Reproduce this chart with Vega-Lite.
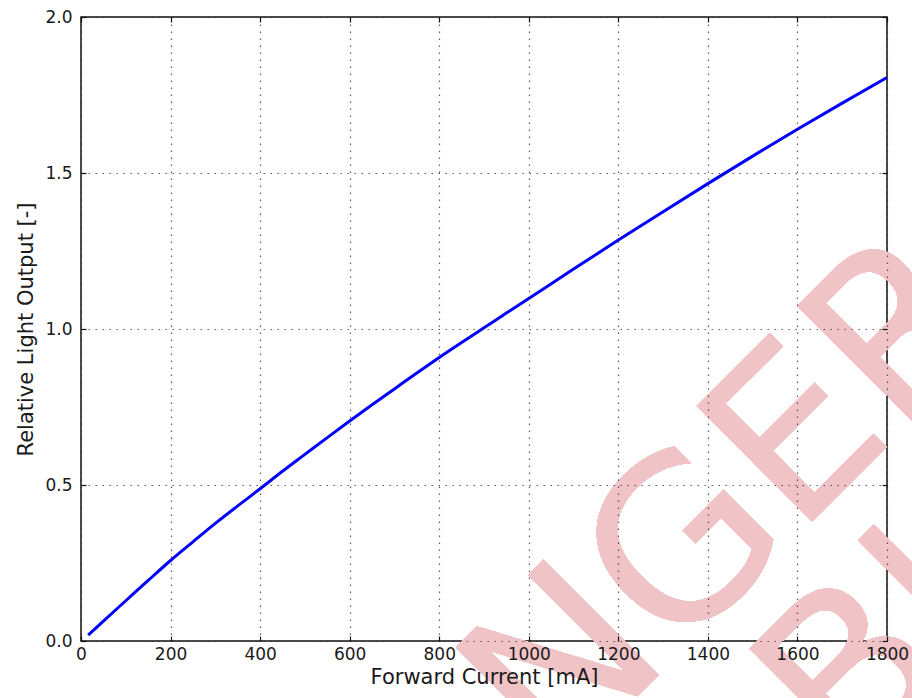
{
  "$schema": "https://vega.github.io/schema/vega-lite/v6.json",
  "autosize": {"type": "none"},
  "width": 806,
  "height": 624,
  "padding": {"left": 81, "top": 17, "right": 25, "bottom": 57},
  "background": "white",
  "config": {
    "view": {"stroke": "#111", "strokeWidth": 1.5},
    "font": "DejaVu Sans",
    "axis": {
      "labelFont": "DejaVu Sans",
      "titleFont": "DejaVu Sans",
      "labelFontSize": 17,
      "titleFontSize": 21,
      "titleFontWeight": "normal",
      "labelColor": "#1a1a1a",
      "titleColor": "#1a1a1a",
      "domain": false
    }
  },
  "data": {
    "values": [
      {"current": 16, "output": 0.019},
      {"current": 50, "output": 0.064},
      {"current": 100, "output": 0.129},
      {"current": 150, "output": 0.194},
      {"current": 200, "output": 0.258},
      {"current": 250, "output": 0.318},
      {"current": 300, "output": 0.377},
      {"current": 350, "output": 0.433},
      {"current": 400, "output": 0.488},
      {"current": 450, "output": 0.544},
      {"current": 500, "output": 0.598},
      {"current": 550, "output": 0.652},
      {"current": 600, "output": 0.705},
      {"current": 650, "output": 0.757},
      {"current": 700, "output": 0.808},
      {"current": 750, "output": 0.859},
      {"current": 800, "output": 0.909},
      {"current": 850, "output": 0.957},
      {"current": 900, "output": 1.004},
      {"current": 950, "output": 1.051},
      {"current": 1000, "output": 1.098},
      {"current": 1100, "output": 1.192},
      {"current": 1200, "output": 1.285},
      {"current": 1300, "output": 1.376},
      {"current": 1400, "output": 1.466},
      {"current": 1500, "output": 1.554},
      {"current": 1600, "output": 1.64},
      {"current": 1700, "output": 1.724},
      {"current": 1800, "output": 1.806}
    ]
  },
  "resolve": {"axis": {"x": "independent", "y": "independent"}},
  "layer": [
    {
      "mark": {"type": "text", "text": "NGER", "font": "DejaVu Sans", "fontSize": 224, "angle": -45, "align": "left", "baseline": "alphabetic", "fill": "#f0c3c7", "clip": false},
      "encoding": {
        "x": {"datum": 1060, "type": "quantitative", "scale": {"domain": [0, 1800], "nice": false, "zero": false}, "axis": null},
        "y": {"datum": -0.44, "type": "quantitative", "scale": {"domain": [0, 2], "nice": false, "zero": false}, "axis": null}
      }
    },
    {
      "mark": {"type": "text", "text": "BI", "font": "DejaVu Sans", "fontSize": 224, "angle": -45, "align": "left", "baseline": "alphabetic", "fill": "#f0c3c7", "clip": false},
      "encoding": {
        "x": {"datum": 1716, "type": "quantitative", "scale": {"domain": [0, 1800], "nice": false, "zero": false}, "axis": null},
        "y": {"datum": -0.445, "type": "quantitative", "scale": {"domain": [0, 2], "nice": false, "zero": false}, "axis": null}
      }
    },
    {
      "mark": {"type": "line", "color": "#0000ff", "strokeWidth": 3, "interpolate": "monotone"},
      "encoding": {
        "x": {
          "field": "current", "type": "quantitative",
          "scale": {"domain": [0, 1800], "nice": false, "zero": false},
          "axis": {
            "title": "Forward Current [mA]",
            "values": [0, 200, 400, 600, 800, 1000, 1200, 1400, 1600, 1800],
            "format": "d",
            "ticks": false,
            "labelPadding": 5,
            "titlePadding": 4,
            "grid": true,
            "gridColor": "#333",
            "gridDash": [1.5, 5.5],
            "gridWidth": 1.2,
            "gridOpacity": 0.8,
            "labelFlush": false,
            "zindex": 2
          }
        },
        "y": {
          "field": "output", "type": "quantitative",
          "scale": {"domain": [0, 2], "nice": false, "zero": false},
          "axis": {
            "title": "Relative Light Output [-]",
            "values": [0, 0.5, 1, 1.5, 2],
            "format": ".1f",
            "ticks": false,
            "labelPadding": 9,
            "titlePadding": 8,
            "grid": true,
            "gridColor": "#333",
            "gridDash": [1.5, 5.5],
            "gridWidth": 1.2,
            "gridOpacity": 0.8,
            "labelFlush": false,
            "zindex": 2
          }
        }
      }
    },
    {
      "mark": {"type": "line", "strokeOpacity": 0},
      "encoding": {
        "x": {
          "field": "current", "type": "quantitative",
          "scale": {"domain": [0, 1800], "nice": false, "zero": false},
          "axis": {"orient": "top", "title": null, "labels": false, "grid": false, "tickSize": -5, "tickColor": "#111", "tickWidth": 1.2, "zindex": 2, "values": [0, 200, 400, 600, 800, 1000, 1200, 1400, 1600, 1800]}
        },
        "y": {
          "field": "output", "type": "quantitative",
          "scale": {"domain": [0, 2], "nice": false, "zero": false},
          "axis": {"orient": "right", "title": null, "labels": false, "grid": false, "tickSize": -5, "tickColor": "#111", "tickWidth": 1.2, "zindex": 2, "values": [0, 0.5, 1, 1.5, 2]}
        }
      }
    },
    {
      "mark": {"type": "line", "strokeOpacity": 0},
      "encoding": {
        "x": {
          "field": "current", "type": "quantitative",
          "scale": {"domain": [0, 1800], "nice": false, "zero": false},
          "axis": {"orient": "bottom", "title": null, "labels": false, "grid": false, "tickSize": -5, "tickColor": "#111", "tickWidth": 1.2, "zindex": 2, "values": [0, 200, 400, 600, 800, 1000, 1200, 1400, 1600, 1800]}
        },
        "y": {
          "field": "output", "type": "quantitative",
          "scale": {"domain": [0, 2], "nice": false, "zero": false},
          "axis": {"orient": "left", "title": null, "labels": false, "grid": false, "tickSize": -5, "tickColor": "#111", "tickWidth": 1.2, "zindex": 2, "values": [0, 0.5, 1, 1.5, 2]}
        }
      }
    }
  ]
}
